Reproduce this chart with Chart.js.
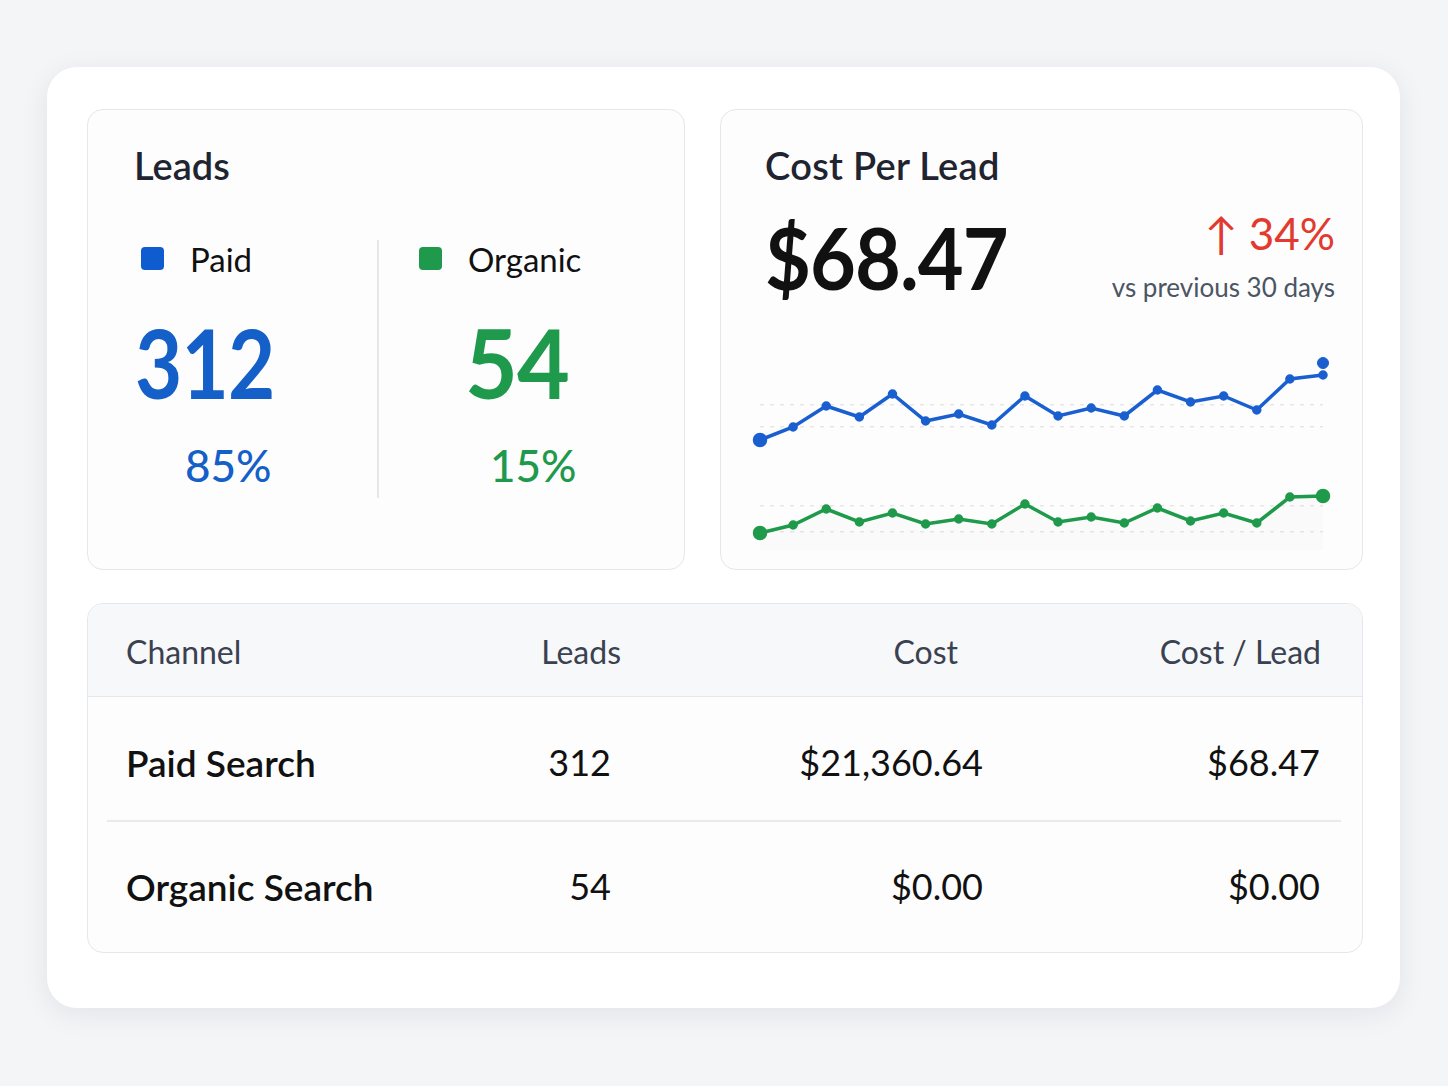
<!DOCTYPE html>
<html>
<head>
<meta charset="utf-8">
<script src="https://cdn.jsdelivr.net/npm/chart.js@4.4.1/dist/chart.umd.min.js"></script>
<style>
  html, body { margin: 0; padding: 0; }
  body { width: 1448px; height: 1086px; background: #f4f5f7; font-family: Lato, "Noto Sans", sans-serif; }
  #page { position: relative; width: 1448px; height: 1086px; overflow: hidden; }
  .abs { position: absolute; line-height: 1; white-space: nowrap; }
  .outer { left: 47px; top: 67px; width: 1353px; height: 941px; background: #fff; border-radius: 30px;
           box-shadow: 0 6px 28px rgba(20, 30, 50, 0.08); }
  .card { background: #fdfdfd; border: 1.5px solid #e4e7eb; border-radius: 16px; box-sizing: border-box; }
  .sq { width: 23px; height: 23px; border-radius: 4px; }
  .blue { color: #1460c8; }
  .green { color: #1f9a4c; }
  .narrow { transform-origin: 0 0; }
</style>
</head>
<body>
<div id="page">
  <div class="abs outer"></div>

  <!-- leads card -->
  <div class="abs card" style="left:87px;top:109px;width:598px;height:461px;"></div>
  <div class="abs" style="left:134px;top:146px;font-size:38px;font-weight:600;color:#1f2430;">Leads</div>
  <div class="abs sq" style="left:141px;top:247px;background:#0f5bd0;"></div>
  <div class="abs" style="left:190px;top:243px;font-size:33px;color:#111;">Paid</div>
  <div class="abs sq" style="left:419px;top:247px;background:#1f9a4c;"></div>
  <div class="abs" style="left:468px;top:243px;font-size:33px;color:#111;">Organic</div>
  <div class="abs" style="left:377px;top:240px;width:1.5px;height:258px;background:#e5e7eb;"></div>
  <div class="abs blue narrow" style="left:135px;top:314px;font-size:96px;font-weight:700;letter-spacing:-1px;transform:scaleX(0.85);" id="paidLeads"></div>
  <div class="abs green narrow" style="left:465px;top:314px;font-size:96px;font-weight:700;letter-spacing:-1px;transform:scaleX(0.95);" id="orgLeads"></div>
  <div class="abs blue" style="left:185px;top:443px;font-size:44px;font-weight:500;" id="paidShare"></div>
  <div class="abs green" style="left:490px;top:443px;font-size:44px;font-weight:500;" id="orgShare"></div>

  <!-- cost per lead card -->
  <div class="abs card" style="left:720px;top:109px;width:643px;height:461px;"></div>
  <div class="abs" style="left:765px;top:146px;font-size:38px;font-weight:600;color:#1f2430;letter-spacing:0.3px;">Cost Per Lead</div>
  <div class="abs narrow" style="left:765px;top:214px;font-size:86px;font-weight:700;color:#111;letter-spacing:-1px;transform:scaleX(0.92);" id="cplBig"></div>
  <div class="abs" style="right:113px;top:211px;font-size:44px;color:#e23a2e;" id="delta"></div>
  <div class="abs" style="right:113px;top:274px;font-size:26px;color:#4b5563;">vs previous 30 days</div>
  <canvas id="trend" class="abs" width="587" height="220" style="left:748px;top:340px;"></canvas>

  <!-- table card -->
  <div class="abs card" style="left:87px;top:603px;width:1276px;height:350px;overflow:hidden;">
    <div style="height:92px;background:#f7f8fa;border-bottom:1.5px solid #e5e7eb;"></div>
  </div>
  <div id="table"></div>
  <div class="abs" style="left:107px;top:820px;width:1234px;height:1.5px;background:#e8eaed;"></div>
</div>

<script>
// headline numbers
const leadChannels = ['Paid', 'Organic'];
const leadCounts = [312, 54];
const leadShares = ['85%', '15%'];
const costPerLead = '$68.47';
const changeVsPrev = '↑ 34%';

// table
const tableHeaders = ['Channel', 'Leads', 'Cost', 'Cost / Lead'];
const tableChannels = ['Paid Search', 'Organic Search'];
const tableLeads = ['312', '54'];
const tableCost = ['$21,360.64', '$0.00'];
const tableCpl = ['$68.47', '$0.00'];

// trend lines (daily cost per lead)
const days = ['1', '2', '3', '4', '5', '6', '7', '8', '9', '10', '11', '12', '13', '14', '15', '16', '17', '18'];
const paidCpl = [55, 61.5, 72, 66.5, 78, 64.5, 68, 62.5, 77, 67, 71, 67, 80, 74, 77, 70, 85.5, 87.5];
const organicCpl = [8.5, 12.5, 20.5, 14, 18.5, 13, 15.5, 13, 23, 14, 16.5, 13.5, 21, 14.5, 18.5, 13.5, 26.5, 27];
const latestMarker = [null, null, null, null, null, null, null, null, null, null, null, null, null, null, null, null, null, 93.5];
const gridValues = [9, 22, 61.5, 72.5];

document.getElementById('paidLeads').textContent = leadCounts[0];
document.getElementById('orgLeads').textContent = leadCounts[1];
document.getElementById('paidShare').textContent = leadShares[0];
document.getElementById('orgShare').textContent = leadShares[1];
document.getElementById('cplBig').textContent = costPerLead;
document.getElementById('delta').textContent = changeVsPrev;

// build table text
var tbl = document.getElementById('table');
function cell(txt, style) {
  var d = document.createElement('div');
  d.className = 'abs';
  d.style.cssText = style;
  d.textContent = txt;
  tbl.appendChild(d);
}
var head = 'top:636px;font-size:32px;color:#3a4150;';
cell(tableHeaders[0], head + 'left:126px;');
cell(tableHeaders[1], head + 'right:827px;');
cell(tableHeaders[2], head + 'right:490px;');
cell(tableHeaders[3], head + 'right:127px;');
var rowTops = [744, 868];
for (var i = 0; i < tableChannels.length; i++) {
  var r = 'top:' + rowTops[i] + 'px;color:#111;';
  cell(tableChannels[i], r + 'left:126px;font-size:37px;font-weight:600;');
  cell(tableLeads[i], r + 'font-size:36px;right:837px;');
  cell(tableCost[i], r + 'font-size:36px;right:465px;');
  cell(tableCpl[i], r + 'font-size:36px;right:128px;');
}

// sparkline
var ctx = document.getElementById('trend').getContext('2d');
var blue = '#1a5fd0', green = '#1f9a4a';
var trend = new Chart(ctx, {
  type: 'line',
  data: {
    labels: days,
    datasets: [
      { label: 'Latest', data: latestMarker, borderColor: blue, backgroundColor: blue,
        showLine: false, pointRadius: 5.5 },
      { label: 'Paid', data: paidCpl, borderColor: blue, backgroundColor: blue, borderWidth: 3.5,
        tension: 0, pointRadius: function(c) { return c.dataIndex === 0 ? 5.5 : 3; } },
      { label: 'Organic', data: organicCpl, borderColor: green, backgroundColor: 'rgba(60,80,70,0.02)',
        pointBackgroundColor: green, borderWidth: 3.5, tension: 0, fill: 'origin',
        pointRadius: function(c) { return (c.dataIndex === 0 || c.dataIndex === organicCpl.length - 1) ? 5.5 : 3; } }
    ]
  },
  options: {
    responsive: false,
    animation: false,
    layout: { padding: { left: 12, right: 12, top: 10, bottom: 10 } },
    plugins: { legend: { display: false }, tooltip: { enabled: false } },
    scales: {
      x: { display: false, offset: false },
      y: {
        min: 0, max: 100,
        border: { display: false },
        ticks: { display: false },
        grid: { color: 'rgba(0,0,0,0.09)', lineWidth: 1.5, drawTicks: false },
        afterBuildTicks: function(axis) { axis.ticks = gridValues.map(function(v) { return { value: v }; }); }
      }
    }
  },
  plugins: [{
    id: 'dashGrid',
    beforeDraw: function(chart) { chart.options.scales.y.border.dash = [4, 6]; }
  }]
});
</script>
</body>
</html>
